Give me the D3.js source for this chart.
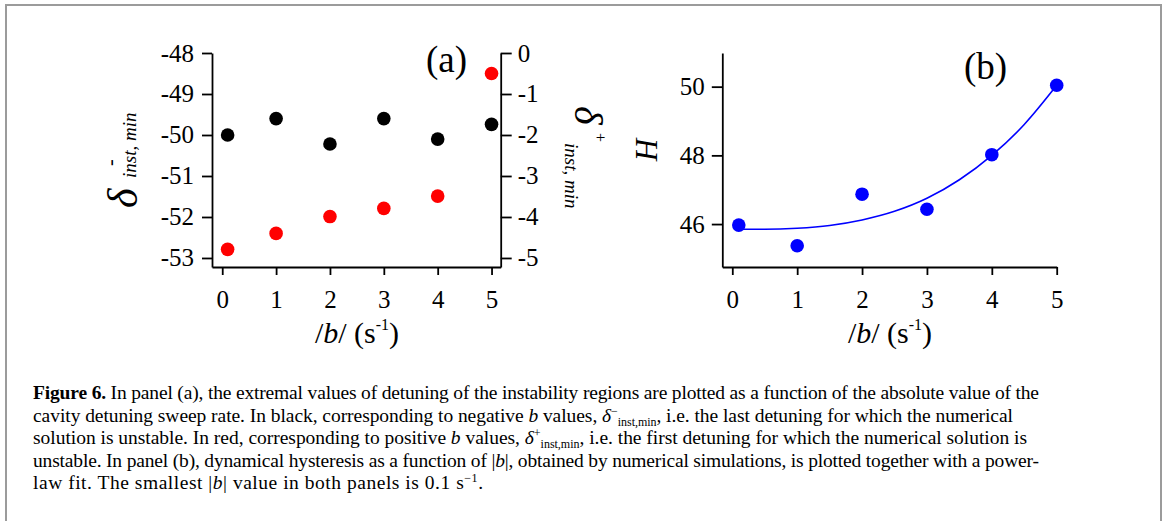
<!DOCTYPE html>
<html>
<head>
<meta charset="utf-8">
<script src="https://cdn.jsdelivr.net/npm/d3@7"></script>
<style>
  body { margin: 0; background: #fff; }
  svg { display: block; }
  text { font-family: "Liberation Serif", "Times New Roman", serif; fill: #000; }
  .axis path, .axis line { stroke: #000; stroke-width: 1.8; }
</style>
</head>
<body>
<div id="fig"></div>
<script>
// Data
const B_VALUES = [0.1, 1, 2, 3, 4, 5];
const DELTA_MINUS = [-50.0, -49.6, -50.22, -49.6, -50.1, -49.74];   // black, left axis
const DELTA_PLUS = [-4.79, -4.4, -3.99, -3.79, -3.49, -0.5];        // red, right axis
const HYSTERESIS = [45.97, 45.37, 46.87, 46.43, 48.02, 50.04];      // blue points
// power-law fit curve
const FIT_B = [0.1, 0.5, 1, 1.5, 2, 2.5, 3, 3.5, 4, 4.5, 5];
const FIT_H = [45.85, 45.85, 45.88, 45.96, 46.12, 46.37, 46.75, 47.29, 48.0, 48.9, 50.04];

const X_TICKS = [0, 1, 2, 3, 4, 5];
const LEFT_TICKS_A = [-53, -52, -51, -50, -49, -48];
const RIGHT_TICKS_A = [-5, -4, -3, -2, -1, 0];
const TICKS_B = [46, 48, 50];

const WIDTH = 1168;
const HEIGHT = 521;

const svg = d3.select("#fig")
              .append("svg")
                .attr("width", WIDTH)
                .attr("height", HEIGHT);

// Frame around the figure + caption
svg.append("rect")
    .attr("x", 6)
    .attr("y", 5)
    .attr("width", 1155)
    .attr("height", 540)
    .attr("fill", "none")
    .attr("stroke", "#9b9b9b")
    .attr("stroke-width", 2);

function fmt(d) { return String(d); }

// makes tick labels serif and large
function styleAxis(g) {
    g.attr("class", "axis")
     .attr("font-family", null)
     .attr("font-size", null);
    g.selectAll("text")
     .style("font-family", "'Liberation Serif', serif")
     .style("font-size", "25px");
}

// ---------- Panel (a) ----------
const X_A = d3.scaleLinear().domain([-0.19, 5.17]).range([212, 500.7]);
const YL_A = d3.scaleLinear().domain([-53.22, -48]).range([267, 53]);
const YR_A = d3.scaleLinear().domain([-5.22, 0]).range([267, 53]);

svg.append("g")
    .attr("transform", "translate(0,267)")
    .call(d3.axisBottom(X_A).tickValues(X_TICKS).tickFormat(fmt)
            .tickSize(8).tickSizeOuter(0).tickPadding(15))
    .call(styleAxis);

svg.append("g")
    .attr("transform", "translate(212,0)")
    .call(d3.axisLeft(YL_A).tickValues(LEFT_TICKS_A).tickFormat(fmt)
            .tickSize(10).tickSizeOuter(0).tickPadding(8))
    .call(styleAxis);

svg.append("g")
    .attr("transform", "translate(500.7,0)")
    .call(d3.axisRight(YR_A).tickValues(RIGHT_TICKS_A).tickFormat(fmt)
            .tickSize(11).tickSizeOuter(0).tickPadding(6))
    .call(styleAxis);

svg.selectAll("dm")
    .data(B_VALUES.map((b, i) => ({b: b, v: DELTA_MINUS[i]})))
    .enter()
    .append("circle")
      .attr("cx", (d) => X_A(d.b))
      .attr("cy", (d) => YL_A(d.v))
      .attr("r", 6.8)
      .attr("fill", "#000");

svg.selectAll("dp")
    .data(B_VALUES.map((b, i) => ({b: b, v: DELTA_PLUS[i]})))
    .enter()
    .append("circle")
      .attr("cx", (d) => X_A(d.b))
      .attr("cy", (d) => YR_A(d.v))
      .attr("r", 6.8)
      .attr("fill", "#ff0000");

svg.append("text")
    .attr("x", 426)
    .attr("y", 72)
    .style("font-size", "37px")
    .text("(a)");

// left y label: delta^- _{inst, min}
svg.append("text")
    .attr("transform", "translate(137,208) rotate(-90)")
    .style("font-size", "42px")
    .style("font-style", "italic")
    .text("\u03b4");
svg.append("text")
    .attr("transform", "translate(117,166) rotate(-90)")
    .style("font-size", "20px")
    .text("-");
svg.append("text")
    .attr("transform", "translate(136,178) rotate(-90)")
    .style("font-size", "19px")
    .style("font-style", "italic")
    .text("inst, min");

// right y label: delta^+ _{inst, min}
svg.append("text")
    .attr("transform", "translate(575,106) rotate(90)")
    .style("font-size", "40px")
    .style("font-style", "italic")
    .text("\u03b4");
svg.append("text")
    .attr("transform", "translate(595,133) rotate(90)")
    .style("font-size", "16px")
    .text("+");
svg.append("text")
    .attr("transform", "translate(565,143) rotate(90)")
    .style("font-size", "19px")
    .style("font-style", "italic")
    .text("inst, min");

// x label builder: /b/ (s^-1)
function xLabel(cx) {
    const t = svg.append("text")
        .attr("x", cx)
        .attr("y", 343)
        .attr("text-anchor", "middle")
        .style("font-size", "30px");
    t.append("tspan").text("/");
    t.append("tspan").style("font-style", "italic").text("b");
    t.append("tspan").text("/ (s");
    t.append("tspan").attr("dy", -13).style("font-size", "16px").text("-1");
    t.append("tspan").attr("dy", 13).text(")");
}
xLabel(357);

// ---------- Panel (b) ----------
const X_B = d3.scaleLinear().domain([-0.154, 5]).range([722.3, 1056.7]);
const Y_B = d3.scaleLinear().domain([44.75, 50.98]).range([267, 53]);

svg.append("g")
    .attr("transform", "translate(0,267)")
    .call(d3.axisBottom(X_B).tickValues(X_TICKS).tickFormat(fmt)
            .tickSize(8).tickSizeOuter(0).tickPadding(15))
    .call(styleAxis);

svg.append("g")
    .attr("transform", "translate(722.3,0)")
    .call(d3.axisLeft(Y_B).tickValues(TICKS_B).tickFormat(fmt)
            .tickSize(10.5).tickSizeOuter(0).tickPadding(7))
    .call(styleAxis);

const fitLine = d3.line()
    .x((d, i) => X_B(FIT_B[i]))
    .y((d) => Y_B(d))
    .curve(d3.curveMonotoneX);

svg.append("path")
    .attr("d", fitLine(FIT_H))
    .attr("fill", "none")
    .attr("stroke", "#0000ff")
    .attr("stroke-width", 1.6);

svg.selectAll("hp")
    .data(B_VALUES.map((b, i) => ({b: b, v: HYSTERESIS[i]})))
    .enter()
    .append("circle")
      .attr("cx", (d) => X_B(d.b))
      .attr("cy", (d) => Y_B(d.v))
      .attr("r", 6.8)
      .attr("fill", "#0000ff");

svg.append("text")
    .attr("x", 964)
    .attr("y", 79)
    .style("font-size", "37px")
    .text("(b)");

svg.append("text")
    .attr("transform", "translate(657,150) rotate(-90)")
    .attr("text-anchor", "middle")
    .style("font-size", "31px")
    .style("font-style", "italic")
    .text("H");

xLabel(890);

// ---------- Caption ----------
const CAPTION_X = 33;
const CAPTION_Y = [399, 421.7, 444.2, 466.7, 489];
const CAPTION_W = [1006, 980, 994, 1006, 450];

const caption = [
  [{t: "Figure 6.", s: "b"}, {t: " In panel (a), the extremal values of detuning of the instability regions are plotted as a function of the absolute value of the"}],
  [{t: "cavity detuning sweep rate. In black, corresponding to negative "}, {t: "b", s: "i"}, {t: " values, "}, {t: "\u03b4", s: "i"}, {t: "\u2212", s: "sup"}, {t: "inst,min", s: "sub"}, {t: ", i.e. the last detuning for which the numerical"}],
  [{t: "solution is unstable. In red, corresponding to positive "}, {t: "b", s: "i"}, {t: " values, "}, {t: "\u03b4", s: "i"}, {t: "+", s: "sup"}, {t: "inst,min", s: "sub"}, {t: ", i.e. the first detuning for which the numerical solution is"}],
  [{t: "unstable. In panel (b), dynamical hysteresis as a function of |"}, {t: "b", s: "i"}, {t: "|, obtained by numerical simulations, is plotted together with a power-"}],
  [{t: "law fit. The smallest |"}, {t: "b", s: "i"}, {t: "| value in both panels is 0.1 s"}, {t: "\u22121", s: "exp"}, {t: "."}]
];

caption.forEach((line, li) => {
    const t = svg.append("text")
        .attr("x", CAPTION_X)
        .attr("y", CAPTION_Y[li])
        .attr("textLength", CAPTION_W[li])
        .attr("lengthAdjust", "spacing")
        .style("font-size", "19.5px");
    let shift = 0;
    line.forEach((seg) => {
        const sp = t.append("tspan").text(seg.t);
        let dy = 0;
        if (seg.s === "b") sp.style("font-weight", "bold");
        if (seg.s === "i") sp.style("font-style", "italic");
        if (seg.s === "sup" || seg.s === "exp") {
            dy = -7 - shift; shift = -7;
            sp.style("font-size", "12px");
        } else if (seg.s === "sub") {
            dy = 4 - shift; shift = 4;
            sp.style("font-size", "12px");
        } else {
            dy = -shift; shift = 0;
        }
        if (dy !== 0) sp.attr("dy", dy);
    });
});
</script>
</body>
</html>
